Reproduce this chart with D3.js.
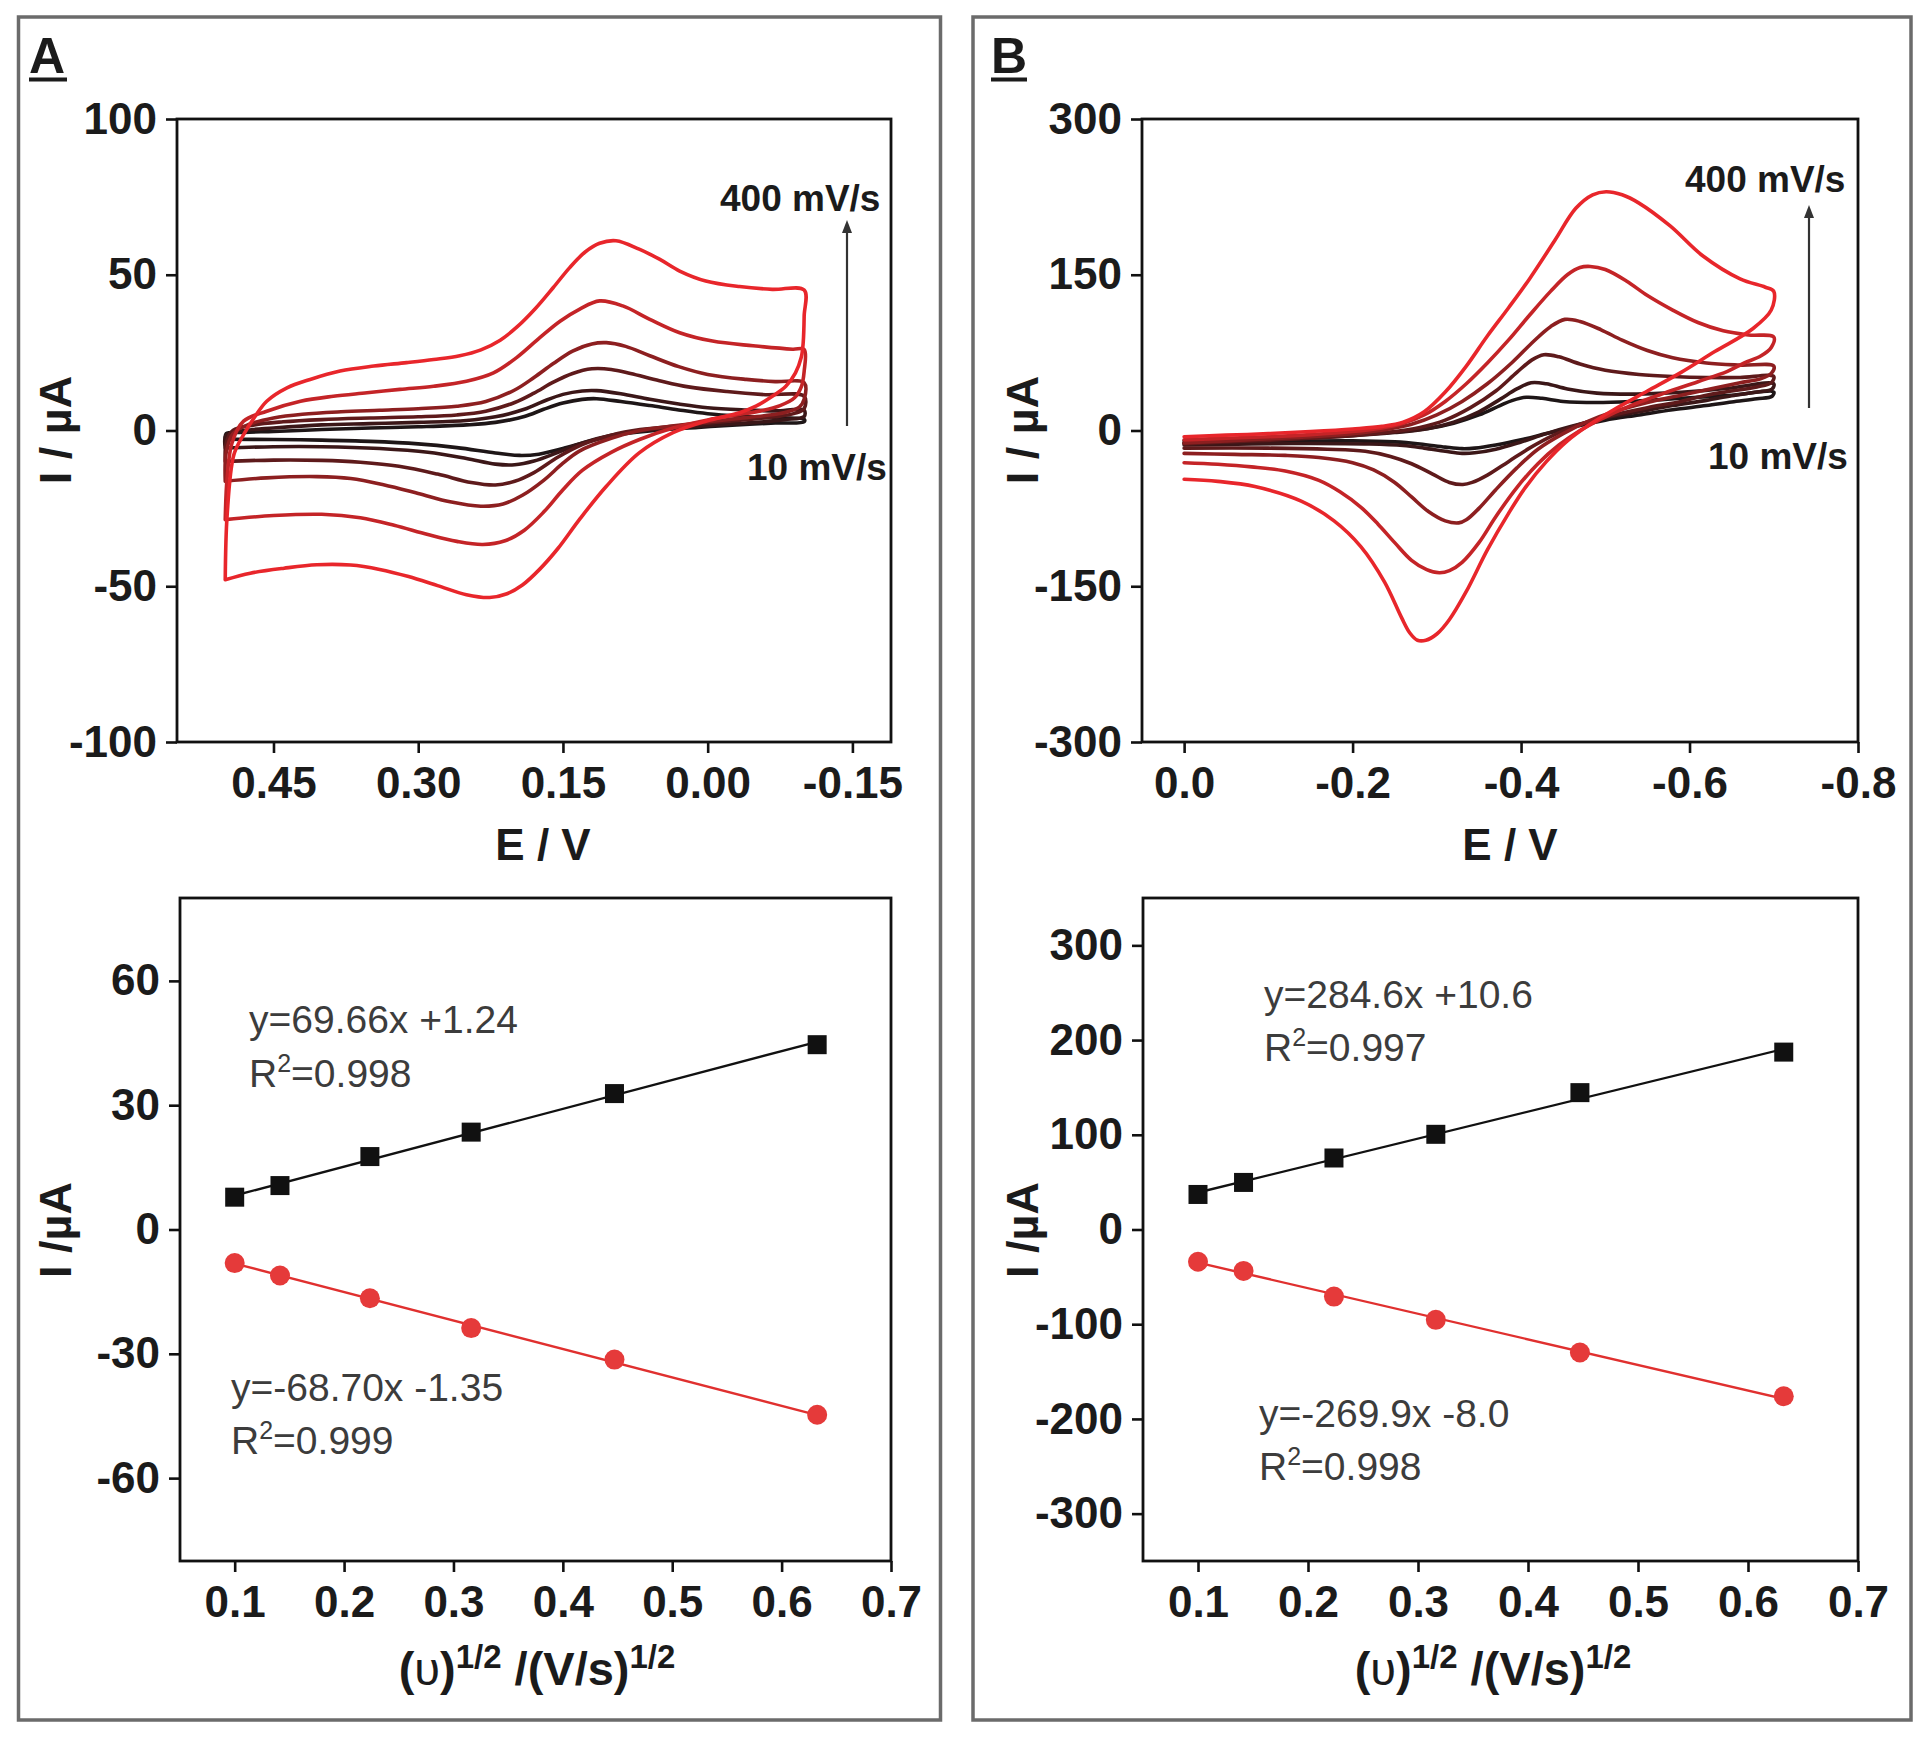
<!DOCTYPE html>
<html><head><meta charset="utf-8">
<script src="https://cdn.jsdelivr.net/npm/d3@7"></script>
<style>body{margin:0;background:#fff}svg{display:block}</style>
</head><body>
<svg id="c" width="1920" height="1739"></svg>
<script>
// ---------------- DATA ----------------
const scanRates = ["10","20","50","100","200","400"];

// Panel A cyclic voltammograms  [E (V), I (µA)]
const cvA10 = [[0.500,-2.8],[0.499,-1.0],[0.48,-0.6],[0.45,-0.3],[0.40,0.3],[0.35,0.8],[0.30,1.2],[0.25,1.8],[0.22,2.6],[0.19,4.5],[0.17,6.8],[0.15,8.8],[0.13,10.0],[0.115,10.2],[0.09,9.3],[0.06,8.0],[0.03,6.6],[0.0,5.4],[-0.04,4.5],[-0.07,4.0],[-0.10,3.6],[-0.10,2.8],[-0.07,2.4],[-0.03,1.8],[0.01,1.0],[0.05,0.2],[0.09,-1.2],[0.12,-3.2],[0.15,-5.8],[0.175,-7.6],[0.195,-8.0],[0.22,-7.2],[0.26,-5.5],[0.30,-4.3],[0.35,-3.5],[0.40,-3.1],[0.45,-2.9],[0.50,-2.8]];
const cvA20 = [[0.50,-5.6],[0.499,-1.5],[0.48,0.0],[0.45,0.8],[0.40,1.8],[0.35,2.2],[0.30,2.6],[0.25,3.2],[0.22,4.4],[0.19,6.8],[0.17,9.4],[0.15,11.6],[0.13,12.7],[0.115,12.8],[0.09,11.8],[0.06,10.0],[0.03,8.5],[0.0,7.3],[-0.04,6.6],[-0.07,6.3],[-0.10,6.5],[-0.10,4.5],[-0.08,3.5],[-0.05,2.6],[-0.02,2.0],[0.02,1.2],[0.06,0.2],[0.10,-1.5],[0.13,-4.0],[0.155,-7.0],[0.18,-9.8],[0.20,-11.0],[0.22,-10.8],[0.25,-9.0],[0.29,-7.0],[0.34,-5.8],[0.40,-5.2],[0.45,-5.2],[0.50,-5.6]];
const cvA50 = [[0.50,-9.9],[0.499,-4],[0.492,0.0],[0.47,1.8],[0.44,2.8],[0.40,3.5],[0.35,4.0],[0.30,4.4],[0.26,5.0],[0.23,6.2],[0.20,9.0],[0.18,12.0],[0.16,15.5],[0.14,18.3],[0.12,19.8],[0.10,19.6],[0.08,18.3],[0.05,16.0],[0.02,14.0],[-0.02,12.5],[-0.06,11.5],[-0.10,11.0],[-0.10,7.0],[-0.09,5.5],[-0.07,4.4],[-0.04,3.5],[-0.01,2.7],[0.03,1.5],[0.07,0.3],[0.10,-1.5],[0.13,-4.5],[0.155,-8.5],[0.18,-13.5],[0.20,-16.3],[0.22,-17.5],[0.245,-16.7],[0.28,-14.0],[0.32,-11.5],[0.36,-10.2],[0.40,-9.6],[0.45,-9.5],[0.50,-9.9]];
const cvA100 = [[0.50,-16.3],[0.499,-7],[0.492,-1.0],[0.475,2.0],[0.45,4.0],[0.42,5.2],[0.38,6.0],[0.34,6.5],[0.30,7.0],[0.26,7.8],[0.23,9.3],[0.20,13.0],[0.18,17.0],[0.16,21.5],[0.14,25.5],[0.12,27.8],[0.105,28.2],[0.085,27.0],[0.06,24.0],[0.03,20.5],[0.0,18.0],[-0.04,16.4],[-0.07,15.7],[-0.10,15.3],[-0.10,10.0],[-0.095,7.5],[-0.08,5.8],[-0.06,4.8],[-0.03,3.8],[0.0,2.8],[0.035,1.5],[0.07,0.0],[0.10,-2.5],[0.133,-6.6],[0.15,-10.5],[0.17,-16.0],[0.192,-20.8],[0.212,-23.6],[0.235,-24.3],[0.267,-22.9],[0.30,-20.2],[0.336,-17.4],[0.37,-15.4],[0.405,-14.8],[0.457,-15.2],[0.50,-16.3]];
const cvA200 = [[0.500,-28.6],[0.498,-15],[0.493,-4],[0.481,3.0],[0.457,6.2],[0.422,9.4],[0.388,11.0],[0.353,12.1],[0.319,13.2],[0.284,14.2],[0.250,15.8],[0.222,18.5],[0.198,23.4],[0.174,29.8],[0.153,35.1],[0.133,38.9],[0.112,41.6],[0.088,40.0],[0.060,35.7],[0.029,31.4],[-0.005,28.7],[-0.047,27.2],[-0.088,26.1],[-0.100,26.0],[-0.100,19],[-0.097,14],[-0.09,10.5],[-0.075,8.0],[-0.055,6.3],[-0.03,5.0],[0.0,3.4],[0.036,0.8],[0.07,-2.8],[0.10,-7.0],[0.13,-12.8],[0.15,-19.0],[0.17,-26.2],[0.19,-32.0],[0.21,-35.4],[0.233,-36.6],[0.26,-35.6],[0.29,-33.4],[0.325,-30.4],[0.36,-28.0],[0.40,-26.9],[0.45,-27.3],[0.500,-28.6]];
const cvA400 = [[0.500,-47.9],[0.498,-27],[0.491,-7.7],[0.481,-1.3],[0.470,4.1],[0.457,9.4],[0.436,13.7],[0.412,16.4],[0.381,19.1],[0.346,20.7],[0.312,21.8],[0.284,22.8],[0.257,24.0],[0.235,25.9],[0.215,29.0],[0.197,33.4],[0.179,39.0],[0.160,45.9],[0.143,52.3],[0.127,57.3],[0.112,60.1],[0.095,60.9],[0.071,58.2],[0.050,55.0],[0.029,51.2],[0.002,48.0],[-0.033,46.2],[-0.067,45.3],[-0.100,45.1],[-0.100,36.8],[-0.099,28.2],[-0.097,23.5],[-0.091,18.5],[-0.081,14.2],[-0.067,11.0],[-0.050,7.8],[-0.033,5.7],[0.002,3.0],[0.036,-0.7],[0.071,-7.2],[0.105,-17.9],[0.133,-28.6],[0.155,-37.8],[0.174,-44.5],[0.192,-49.6],[0.208,-52.4],[0.226,-53.6],[0.25,-52.7],[0.28,-49.8],[0.31,-46.9],[0.34,-44.6],[0.370,-43.2],[0.405,-43.1],[0.439,-44.2],[0.474,-45.8],[0.500,-47.9]];

// Panel B cyclic voltammograms  [E (V), I (µA)]
const cvB10 = [[0.0,-10],[-0.05,-8.5],[-0.10,-7],[-0.15,-5.5],[-0.20,-4],[-0.25,-1.5],[-0.29,2],[-0.32,7],[-0.35,15],[-0.375,24],[-0.39,29],[-0.406,32],[-0.425,31],[-0.45,28],[-0.49,27],[-0.53,28],[-0.57,30],[-0.61,32],[-0.65,34],[-0.70,37],[-0.698,33],[-0.68,30.5],[-0.65,27.5],[-0.62,24],[-0.58,20],[-0.54,15],[-0.50,10],[-0.46,3],[-0.43,-3],[-0.40,-9],[-0.37,-14],[-0.345,-17],[-0.33,-17.5],[-0.31,-16],[-0.28,-13],[-0.25,-11],[-0.20,-10],[-0.12,-10.5],[-0.05,-11.5],[0.0,-12]];
const cvB20 = [[0.0,-12],[-0.05,-10],[-0.10,-8.5],[-0.15,-7],[-0.20,-5],[-0.25,-2],[-0.29,2],[-0.32,8],[-0.35,18],[-0.375,30],[-0.395,40],[-0.412,46],[-0.43,45],[-0.455,40],[-0.49,36],[-0.53,35],[-0.57,36],[-0.61,38],[-0.65,41],[-0.70,45],[-0.698,40],[-0.68,37],[-0.65,33.5],[-0.62,29],[-0.58,24],[-0.54,18],[-0.50,12],[-0.46,4],[-0.43,-3],[-0.40,-11],[-0.37,-18],[-0.345,-21.5],[-0.33,-22],[-0.31,-20],[-0.285,-17],[-0.26,-14.5],[-0.22,-13],[-0.15,-12.5],[-0.08,-13],[0.0,-14]];
const cvB50 = [[0,-13],[-0.05,-11],[-0.10,-9.5],[-0.15,-7.5],[-0.20,-5],[-0.24,-2],[-0.28,3],[-0.31,10],[-0.34,22],[-0.37,38],[-0.395,56],[-0.413,68],[-0.427,73],[-0.445,71],[-0.47,64],[-0.50,58],[-0.54,54],[-0.58,52],[-0.62,51],[-0.66,51],[-0.70,52],[-0.697,46],[-0.68,42],[-0.65,38],[-0.62,34],[-0.59,28],[-0.55,22],[-0.51,15],[-0.47,6],[-0.44,-4],[-0.41,-17],[-0.385,-30],[-0.36,-43],[-0.342,-50],[-0.331,-52],[-0.315,-50],[-0.295,-42],[-0.27,-32],[-0.245,-25],[-0.215,-20],[-0.17,-18],[-0.10,-17],[0,-17]];
const cvB100 = [[0,-12],[-0.05,-10],[-0.10,-8],[-0.15,-6],[-0.20,-3],[-0.24,1],[-0.27,6],[-0.30,15],[-0.33,28],[-0.36,45],[-0.39,66],[-0.415,86],[-0.435,100],[-0.452,107],[-0.47,105],[-0.495,97],[-0.52,87],[-0.55,77],[-0.58,70],[-0.62,65],[-0.66,63],[-0.70,62],[-0.697,55],[-0.685,50],[-0.66,46],[-0.63,41],[-0.59,34],[-0.55,27],[-0.51,18],[-0.48,9],[-0.45,-3],[-0.42,-18],[-0.395,-36],[-0.37,-57],[-0.35,-75],[-0.335,-86],[-0.326,-89],[-0.31,-87],[-0.29,-78],[-0.27,-64],[-0.25,-50],[-0.225,-38],[-0.20,-31],[-0.16,-26],[-0.12,-24],[-0.06,-23],[0,-22]];
const cvB200 = [[0,-9],[-0.05,-7.5],[-0.10,-6],[-0.15,-4],[-0.20,-1],[-0.235,2.5],[-0.26,7],[-0.285,15],[-0.31,28],[-0.335,45],[-0.36,65],[-0.385,87],[-0.41,111],[-0.435,134],[-0.455,150],[-0.47,157],[-0.482,158],[-0.50,155],[-0.525,144],[-0.55,130],[-0.58,116],[-0.61,104],[-0.64,96],[-0.67,92],[-0.70,90],[-0.697,80],[-0.685,72],[-0.665,65],[-0.645,57],[-0.61,47],[-0.57,36],[-0.53,24],[-0.495,11],[-0.47,0],[-0.445,-14],[-0.42,-32],[-0.395,-55],[-0.37,-83],[-0.35,-108],[-0.33,-127],[-0.315,-135],[-0.303,-137],[-0.288,-134],[-0.27,-125],[-0.25,-108],[-0.23,-90],[-0.21,-74],[-0.185,-59],[-0.16,-48],[-0.12,-39],[-0.08,-35],[-0.04,-32.5],[0,-31]];
const cvB400 = [[0,-6],[-0.05,-4.5],[-0.10,-3],[-0.15,-1],[-0.20,1.5],[-0.235,4],[-0.26,8],[-0.285,18],[-0.31,37],[-0.335,62],[-0.36,91],[-0.385,118],[-0.41,146],[-0.44,183],[-0.465,214],[-0.485,227],[-0.501,230],[-0.52,227],[-0.54,219],[-0.577,197],[-0.616,168],[-0.66,146],[-0.69,138],[-0.70,134],[-0.697,116],[-0.675,98],[-0.63,76],[-0.59,56],[-0.55,38],[-0.51,20],[-0.48,5],[-0.455,-10],[-0.43,-30],[-0.405,-55],[-0.385,-80],[-0.36,-115],[-0.335,-155],[-0.315,-182],[-0.30,-196],[-0.287,-202],[-0.277,-202],[-0.268,-195],[-0.258,-180],[-0.238,-146],[-0.21,-112],[-0.178,-87],[-0.139,-68],[-0.084,-54],[-0.04,-49],[0,-47]];

// Peak current vs square root of scan rate
const sqrtRate = [0.1, 0.1414, 0.2236, 0.3162, 0.4472, 0.6325];
const ipaA = [7.8, 10.6, 17.6, 23.5, 32.8, 44.6];
const ipcA = [-8.1, -11.1, -16.6, -23.8, -31.4, -44.7];
const ipaB = [37, 49.7, 75.5, 100.5, 144.5, 187.3];
const ipcB = [-34, -43.7, -70.8, -95.4, -129.9, -176.1];
const fitA = [[69.66, 1.24], [-68.70, -1.35]];
const fitB = [[284.6, 10.6], [-269.9, -8.0]];
const eqA = ["y=69.66x +1.24", "0.998", "y=-68.70x -1.35", "0.999"];
const eqB = ["y=284.6x +10.6", "0.997", "y=-269.9x -8.0", "0.998"];

// tick values
const ticksA_E = [0.45, 0.30, 0.15, 0.00, -0.15];
const ticksA_I = [-100, -50, 0, 50, 100];
const ticksB_E = [0.0, -0.2, -0.4, -0.6, -0.8];
const ticksB_I = [-300, -150, 0, 150, 300];
const ticksRate = [0.1, 0.2, 0.3, 0.4, 0.5, 0.6, 0.7];
const ticksA_Ip = [-60, -30, 0, 30, 60];
const ticksB_Ip = [-300, -200, -100, 0, 100, 200, 300];

// ---------------- DRAW ----------------
const FONT = '"Liberation Sans", Arial, Helvetica, sans-serif';
const cvColors = ["#1e1617", "#3b1718", "#5e1a1b", "#8d1f20", "#c42427", "#e8262b"];
const svg = d3.select("#c");

function styleAxis(sel) {
  sel.select(".domain").remove();
  sel.selectAll(".tick line").attr("stroke", "#111").attr("stroke-width", 2.6);
  sel.selectAll(".tick text").attr("font-family", FONT).attr("font-size", 44)
     .attr("font-weight", "bold").attr("fill", "#1b1b1b");
}

function makePlot(c) {
  const x = d3.scaleLinear().domain(c.xd).range([c.l, c.r]);
  const y = d3.scaleLinear().domain(c.yd).range([c.b, c.t]);
  const g = svg.append("g");
  g.append("g").attr("transform", `translate(0,${c.b})`)
    .call(d3.axisBottom(x).tickValues(c.xt).tickFormat(c.xf).tickSize(11).tickPadding(14))
    .call(styleAxis);
  g.append("g").attr("transform", `translate(${c.l},0)`)
    .call(d3.axisLeft(y).tickValues(c.yt).tickFormat(c.yf).tickSize(11).tickPadding(9))
    .call(styleAxis);
  g.append("rect").attr("x", c.l).attr("y", c.t).attr("width", c.r - c.l).attr("height", c.b - c.t)
    .attr("fill", "none").attr("stroke", "#111").attr("stroke-width", 2.8);
  return {x, y, g};
}

function txt(x, y, s, size, opts = {}) {
  return svg.append("text").attr("x", x).attr("y", y).text(s)
    .attr("font-family", FONT).attr("font-size", size)
    .attr("font-weight", opts.weight || "bold").attr("fill", opts.fill || "#1b1b1b")
    .attr("text-anchor", opts.anchor || "start");
}

function yTitle(x, y, s) {
  svg.append("text").attr("transform", `translate(${x},${y}) rotate(-90)`)
    .attr("text-anchor", "middle").attr("font-family", FONT).attr("font-size", 45)
    .attr("font-weight", "bold").attr("fill", "#1b1b1b").text(s);
}

function rateTitle(cx, by) {
  const t = svg.append("text").attr("x", cx).attr("y", by).attr("text-anchor", "middle")
    .attr("font-family", FONT).attr("font-size", 47).attr("font-weight", "bold").attr("fill", "#1b1b1b");
  t.append("tspan").text("(");
  t.append("tspan").attr("font-weight", "normal").text("\u03C5");
  t.append("tspan").text(")");
  t.append("tspan").attr("font-size", 33).attr("dy", -17).text("1/2");
  t.append("tspan").attr("dy", 17).text(" /(V/s)");
  t.append("tspan").attr("font-size", 33).attr("dy", -17).text("1/2");
}

function eqText(x, y, s) {
  txt(x, y, s, 39, {weight: "normal", fill: "#3c3c3c"});
}
function r2Text(x, y, v) {
  const t = svg.append("text").attr("x", x).attr("y", y).attr("font-family", FONT)
    .attr("font-size", 39).attr("fill", "#3c3c3c");
  t.append("tspan").text("R");
  t.append("tspan").attr("font-size", 25).attr("dy", -15).text("2");
  t.append("tspan").attr("dy", 15).text("=" + v);
}

function arrow(x, y0, y1) {
  svg.append("line").attr("x1", x).attr("x2", x).attr("y1", y0).attr("y2", y1 + 10)
    .attr("stroke", "#333").attr("stroke-width", 2.2);
  svg.append("path").attr("d", `M${x},${y1} L${x - 5},${y1 + 13} L${x + 5},${y1 + 13} Z`).attr("fill", "#333");
}

// panel frames
svg.append("rect").attr("x", 18.5).attr("y", 17).attr("width", 922).attr("height", 1703)
  .attr("fill", "none").attr("stroke", "#6b6b6b").attr("stroke-width", 3.5);
svg.append("rect").attr("x", 973).attr("y", 17).attr("width", 938).attr("height", 1703)
  .attr("fill", "none").attr("stroke", "#6b6b6b").attr("stroke-width", 3.5);

// panel letters
txt(29, 73, "A", 50);
svg.append("line").attr("x1", 29).attr("x2", 67).attr("y1", 79.5).attr("y2", 79.5).attr("stroke", "#1b1b1b").attr("stroke-width", 4);
txt(991, 73, "B", 50);
svg.append("line").attr("x1", 991).attr("x2", 1027).attr("y1", 79.5).attr("y2", 79.5).attr("stroke", "#1b1b1b").attr("stroke-width", 4);

const f2 = d => d.toFixed(2), f1 = d => d.toFixed(1), f0 = d => String(d);

// ---- CV plots ----
function drawCV(p, curves) {
  const line = d3.line().x(d => p.x(d[0])).y(d => p.y(d[1])).curve(d3.curveCatmullRom.alpha(0.5));
  p.g.append("g").selectAll("path").data(curves).join("path")
    .attr("d", d => line(d)).attr("fill", "none")
    .attr("stroke", (d, i) => cvColors[i]).attr("stroke-width", 3.6)
    .attr("stroke-linejoin", "round").attr("stroke-linecap", "round");
}

const pA = makePlot({l: 177, r: 891, t: 119, b: 742, xd: [0.55, -0.19], yd: [-100, 100],
  xt: ticksA_E, yt: ticksA_I, xf: f2, yf: f0});
drawCV(pA, [cvA10, cvA20, cvA50, cvA100, cvA200, cvA400]);

const pB = makePlot({l: 1142, r: 1858, t: 119, b: 742, xd: [0.05, -0.8], yd: [-300, 300],
  xt: ticksB_E, yt: ticksB_I, xf: f1, yf: f0});
drawCV(pB, [cvB10, cvB20, cvB50, cvB100, cvB200, cvB400]);

txt(543, 860, "E / V", 44, {anchor: "middle"});
txt(1510, 860, "E / V", 44, {anchor: "middle"});
yTitle(71, 430, "I / \u00B5A");
yTitle(1038, 430, "I / \u00B5A");

// annotations
txt(720, 211, scanRates[5] + " mV/s", 37);
txt(747, 480, scanRates[0] + " mV/s", 37);
arrow(847, 426, 220);
txt(1685, 192, scanRates[5] + " mV/s", 37);
txt(1708, 469, scanRates[0] + " mV/s", 37);
arrow(1809, 408, 205);

// ---- peak current plots ----
function drawFit(p, ipa, ipc, fits) {
  const x0 = sqrtRate[0], x1 = sqrtRate[sqrtRate.length - 1];
  const series = [{v: ipa, f: fits[0], col: "#111", lc: "#111", shape: "sq"},
                  {v: ipc, f: fits[1], col: "#e53a3a", lc: "#e0302f", shape: "ci"}];
  series.forEach(s => {
    p.g.append("line").attr("x1", p.x(x0)).attr("x2", p.x(x1))
      .attr("y1", p.y(s.f[0] * x0 + s.f[1])).attr("y2", p.y(s.f[0] * x1 + s.f[1]))
      .attr("stroke", s.lc).attr("stroke-width", 2.4);
    const pts = sqrtRate.map((r, i) => [r, s.v[i]]);
    if (s.shape === "sq") {
      p.g.append("g").selectAll("rect").data(pts).join("rect")
        .attr("x", d => p.x(d[0]) - 9.5).attr("y", d => p.y(d[1]) - 9.5)
        .attr("width", 19).attr("height", 19).attr("fill", s.col);
    } else {
      p.g.append("g").selectAll("circle").data(pts).join("circle")
        .attr("cx", d => p.x(d[0])).attr("cy", d => p.y(d[1])).attr("r", 10).attr("fill", s.col);
    }
  });
}

const pC = makePlot({l: 180, r: 891, t: 898, b: 1561, xd: [0.05, 0.7], yd: [-80, 80],
  xt: ticksRate, yt: ticksA_Ip, xf: f1, yf: f0});
drawFit(pC, ipaA, ipcA, fitA);
const pD = makePlot({l: 1143, r: 1858, t: 898, b: 1561, xd: [0.05, 0.7], yd: [-350, 350],
  xt: ticksRate, yt: ticksB_Ip, xf: f1, yf: f0});
drawFit(pD, ipaB, ipcB, fitB);

yTitle(71, 1230, "I /\u00B5A");
yTitle(1038, 1230, "I /\u00B5A");
rateTitle(537, 1685);
rateTitle(1493, 1685);

eqText(249, 1033, eqA[0]);
r2Text(249, 1087, eqA[1]);
eqText(231, 1401, eqA[2]);
r2Text(231, 1454, eqA[3]);
eqText(1264, 1008, eqB[0]);
r2Text(1264, 1061, eqB[1]);
eqText(1259, 1427, eqB[2]);
r2Text(1259, 1480, eqB[3]);
</script>
</body></html>
